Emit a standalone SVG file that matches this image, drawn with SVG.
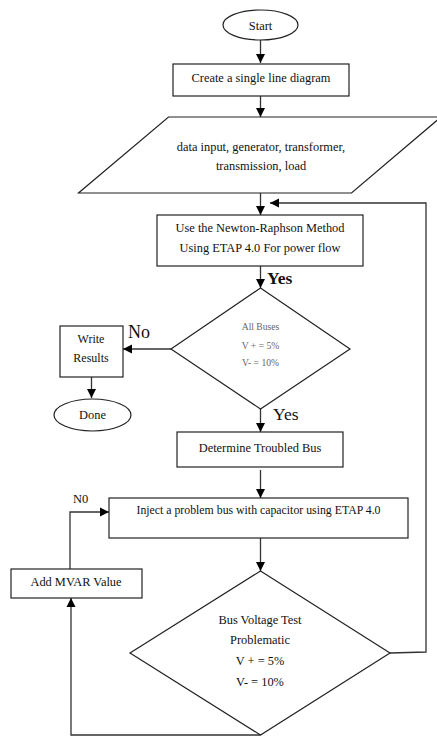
<svg xmlns="http://www.w3.org/2000/svg" width="437" height="737" viewBox="0 0 437 737">
<defs>
<marker id="ah" markerWidth="10" markerHeight="10" refX="9" refY="5" orient="auto" markerUnits="userSpaceOnUse">
<path d="M0,0.5 L9,5 L0,9.5 Z" fill="#000"/>
</marker>
<style>
.s{fill:#fff;stroke:#222;stroke-width:1.2}
.t{font-family:"Liberation Serif","Times New Roman",serif;font-size:12.4px;fill:#111;text-anchor:middle}
.g{font-family:"Liberation Serif","Times New Roman",serif;font-size:9.6px;fill:#666;text-anchor:middle}
.c{fill:none;stroke:#333;stroke-width:1.3}
.l{font-family:"Liberation Serif","Times New Roman",serif;fill:#111}
</style>
</defs>
<rect width="437" height="737" fill="#fff"/>
<g id="connectors">
<line class="c" x1="260.5" y1="40" x2="260.5" y2="63" marker-end="url(#ah)"/>
<line class="c" x1="260.5" y1="96" x2="260.5" y2="117" marker-end="url(#ah)"/>
<line class="c" x1="260.5" y1="193" x2="260.5" y2="215" marker-end="url(#ah)"/>
<line class="c" x1="260.5" y1="266" x2="260.5" y2="288" marker-end="url(#ah)"/>
<line class="c" x1="171" y1="349" x2="123" y2="349" stroke-width="2" marker-end="url(#ah)"/>
<line class="c" x1="91.5" y1="377" x2="91.5" y2="398" marker-end="url(#ah)"/>
<line class="c" x1="260.5" y1="409" x2="260.5" y2="432" marker-end="url(#ah)"/>
<line class="c" x1="260.5" y1="470" x2="260.5" y2="498" marker-end="url(#ah)"/>
<line class="c" x1="260.5" y1="538" x2="260.5" y2="571" marker-end="url(#ah)"/>
<polyline class="c" points="70,569 70,512 109,512" marker-end="url(#ah)"/>
<polyline class="c" points="260.5,735 71,735 71,598" marker-end="url(#ah)"/>
<polyline class="c" points="390,653 426,652 426,203 270,203" marker-end="url(#ah)"/>
<text class="l" x="267" y="284" font-size="17.5" font-weight="bold">Yes</text>
<text class="l" x="128" y="338" font-size="18">No</text>
<text class="l" x="273" y="420" font-size="17.5">Yes</text>
<text class="l" x="73" y="503" font-size="12.5">N0</text>
</g>
<g id="start">
<ellipse class="s" cx="260.5" cy="25" rx="37.5" ry="15"/>
<text class="t" x="260.5" y="30">Start</text>
</g>
<g id="create">
<rect class="s" x="173" y="64" width="176" height="32"/>
<text class="t" x="261" y="81.5">Create a single line diagram</text>
</g>
<g id="data">
<polygon class="s" points="168.5,117 441,117 351.5,193 78.5,193"/>
<text class="t" x="261" y="151">data input, generator, transformer,</text>
<text class="t" x="261" y="170">transmission, load</text>
</g>
<g id="newton">
<rect class="s" x="157" y="215" width="206" height="51"/>
<text class="t" x="260" y="232">Use the Newton-Raphson Method</text>
<text class="t" x="260" y="252">Using ETAP 4.0 For power flow</text>
</g>
<g id="allbuses">
<polygon class="s" points="260.5,288 350,349 260.5,409 171,349"/>
<text class="g" x="260.5" y="330">All Buses</text>
<text class="g" x="260.5" y="349">V + = 5%</text>
<text class="g" x="260.5" y="366">V- = 10%</text>
</g>
<g id="write">
<rect class="s" x="60" y="326" width="63" height="51"/>
<text class="t" x="91" y="342.5" style="font-size:12px">Write</text>
<text class="t" x="91" y="361.5" style="font-size:12px">Results</text>
</g>
<g id="done">
<ellipse class="s" cx="92.5" cy="415" rx="38.5" ry="16"/>
<text class="t" x="92.5" y="419">Done</text>
</g>
<g id="troubled">
<rect class="s" x="177" y="432" width="166" height="35"/>
<text class="t" x="260" y="452">Determine Troubled Bus</text>
</g>
<g id="inject">
<rect class="s" x="109" y="498" width="299" height="40"/>
<text class="t" x="258.5" y="514" style="font-size:11.8px">Inject a problem bus with capacitor using ETAP 4.0</text>
</g>
<g id="mvar">
<rect class="s" x="11" y="569" width="131" height="29"/>
<text class="t" x="76" y="586">Add MVAR Value</text>
</g>
<g id="test">
<polygon class="s" points="260.5,571 390,653 260.5,735 130,653"/>
<text class="t" x="260" y="624">Bus Voltage Test</text>
<text class="t" x="260" y="644">Problematic</text>
<text class="t" x="260" y="665">V + = 5%</text>
<text class="t" x="260" y="686">V- = 10%</text>
</g>
</svg>
